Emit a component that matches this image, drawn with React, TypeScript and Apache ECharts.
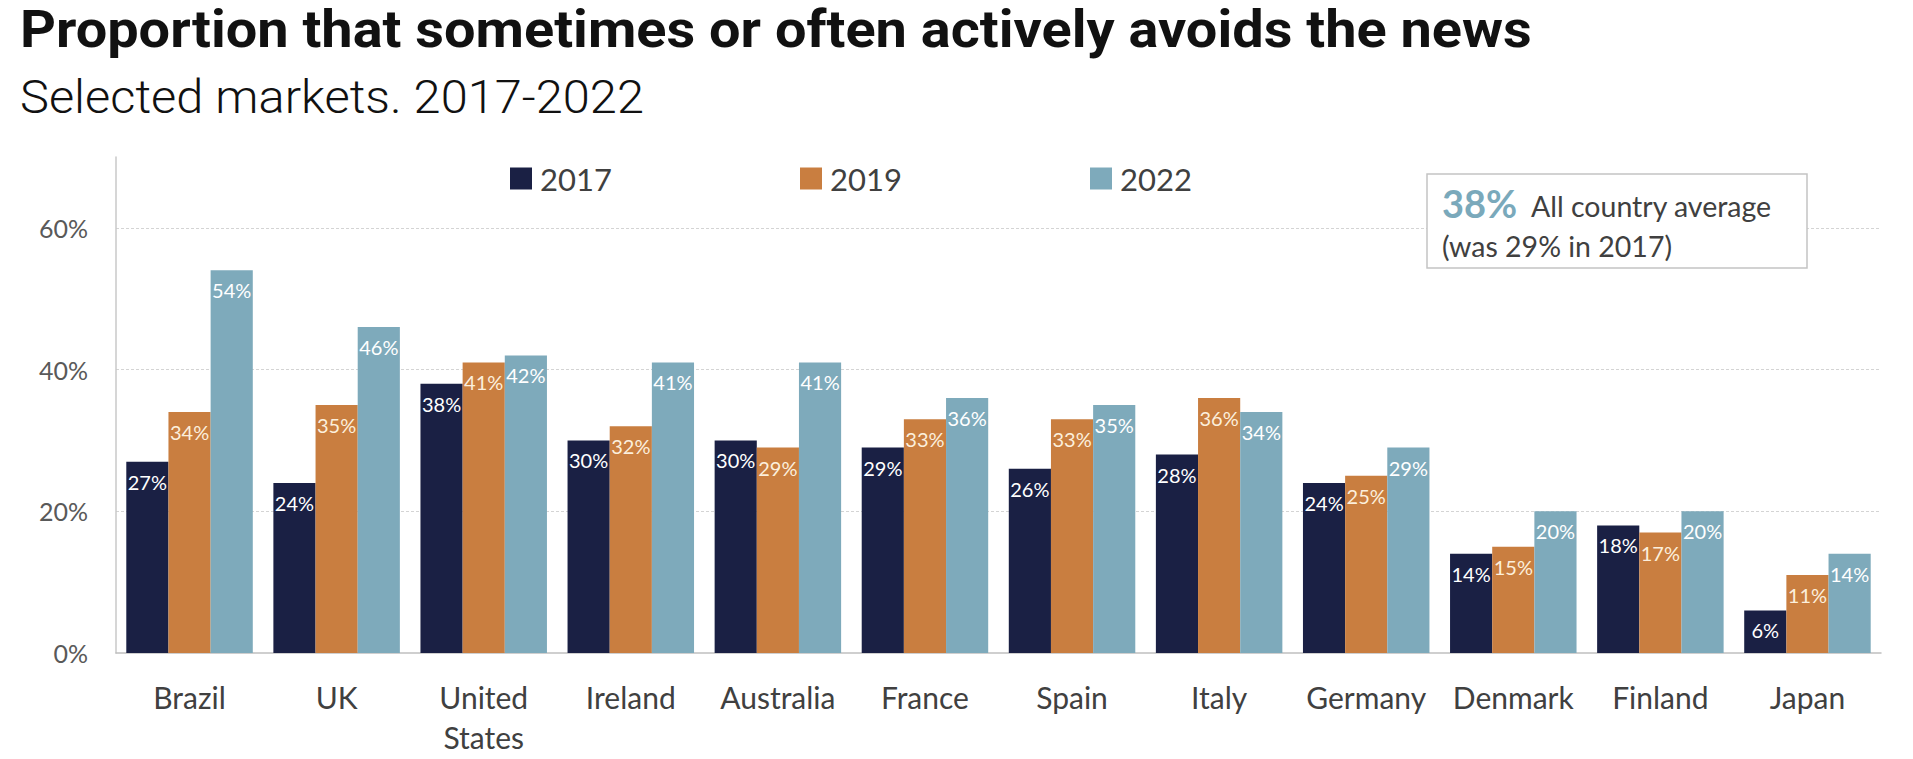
import React, { useEffect, useRef } from "react";
import * as echarts from "echarts";

const categories = ["Brazil", "UK", "United States", "Ireland", "Australia", "France", "Spain", "Italy", "Germany", "Denmark", "Finland", "Japan"];
const years = ["2017", "2019", "2022"];
const values2017 = [27, 24, 38, 30, 30, 29, 26, 28, 24, 14, 18, 6];
const values2019 = [34, 35, 41, 32, 29, 33, 33, 36, 25, 15, 17, 11];
const values2022 = [54, 46, 42, 41, 41, 36, 35, 34, 29, 20, 20, 14];
const yTicks = [0, 20, 40, 60];
const titleText = "Proportion that sometimes or often actively avoids the news";
const subtitleText = "Selected markets. 2017-2022";
const averageValue = "38%";
const averageLabel = "All country average";
const averageNote = "(was 29% in 2017)";

const colors = ["#1a2044", "#c97e40", "#7eaabb"];
const labelColors = ["#ffffff", "#fcefdc", "#ffffff"];
const FONT = "Lato, 'Open Sans', sans-serif";

export default function App() {
  const ref = useRef<HTMLDivElement>(null);
  useEffect(() => {
    if (!ref.current) return;
    const chart = echarts.init(ref.current, null, { renderer: "svg" });
    const seriesData = [values2017, values2019, values2022];
    chart.setOption({
      animation: false,
      backgroundColor: "#ffffff",
      textStyle: { fontFamily: FONT },
      grid: { left: 116, right: 32, top: 157, bottom: 106, containLabel: false },
      legend: {
        data: years,
        left: 505,
        top: 158,
        icon: "rect",
        itemWidth: 22,
        itemHeight: 22,
        itemGap: 188,
        textStyle: { fontFamily: FONT, fontSize: 31, color: "#404040", lineHeight: 22, width: 72, padding: [0, 0, 0, 3] },
      },
      xAxis: {
        type: "category",
        data: categories,
        axisLine: { show: true, lineStyle: { color: "#bfbfbf", width: 1.5 } },
        axisTick: { show: false },
        axisLabel: {
          interval: 0,
          margin: 24,
          fontFamily: FONT,
          fontSize: 30,
          lineHeight: 40,
          color: "#404040",
          formatter: (v: string) => v.replace(" ", "\n"),
        },
      },
      yAxis: {
        type: "value",
        min: 0,
        max: 70,
        interval: 20,
        axisLine: { show: true, lineStyle: { color: "#c8c8c8", width: 1.5 } },
        axisTick: { show: false },
        axisLabel: {
          margin: 28,
          fontFamily: FONT,
          fontSize: 25,
          color: "#595959",
          showMaxLabel: false,
          formatter: (v: number) => (yTicks.includes(v) ? v + "%" : ""),
        },
        splitLine: {
          show: true,
          showMinLine: false,
          showMaxLine: false,
          lineStyle: { color: "#d4d4d4", type: [3, 2], width: 1 },
        },
      },
      series: years.map((y, i) => ({
        name: y,
        type: "bar",
        data: seriesData[i],
        barGap: "0%",
        barCategoryGap: "14%",
        itemStyle: { color: colors[i] },
        label: {
          show: true,
          position: "insideTop",
          distance: 10,
          formatter: "{c}%",
          fontFamily: FONT,
          fontSize: 20,
          color: labelColors[i],
        },
      })),
      graphic: [
        {
          type: "text",
          x: 20,
          y: 3,
          scaleX: 1.075,
          style: { text: titleText, font: "bold 52px Roboto, sans-serif", fill: "#111111" },
        },
        {
          type: "text",
          x: 20,
          y: 74,
          scaleX: 1.06,
          style: { text: subtitleText, font: "300 46px Roboto, sans-serif", fill: "#111111" },
        },
        {
          type: "rect",
          shape: { x: 1427, y: 174, width: 380, height: 94 },
          style: { fill: "#ffffff", stroke: "#c4c4c4", lineWidth: 1.5 },
          z: 10,
        },
        {
          type: "text",
          x: 1442,
          y: 203,
          z: 11,
          style: { text: averageValue, font: "bold 38px Lato, sans-serif", fill: "#7aa9bb", verticalAlign: "middle" },
        },
        {
          type: "text",
          x: 1531,
          y: 206,
          z: 11,
          style: { text: averageLabel, font: "28.5px Lato, sans-serif", fill: "#404040", verticalAlign: "middle" },
        },
        {
          type: "text",
          x: 1442,
          y: 246,
          z: 11,
          style: { text: averageNote, font: "28.5px Lato, sans-serif", fill: "#404040", verticalAlign: "middle" },
        },
      ],
    });
    return () => chart.dispose();
  }, []);
  return <div ref={ref} style={{ position: "fixed", left: 0, top: 0, width: "1913px", height: "759px" }} />;
}
